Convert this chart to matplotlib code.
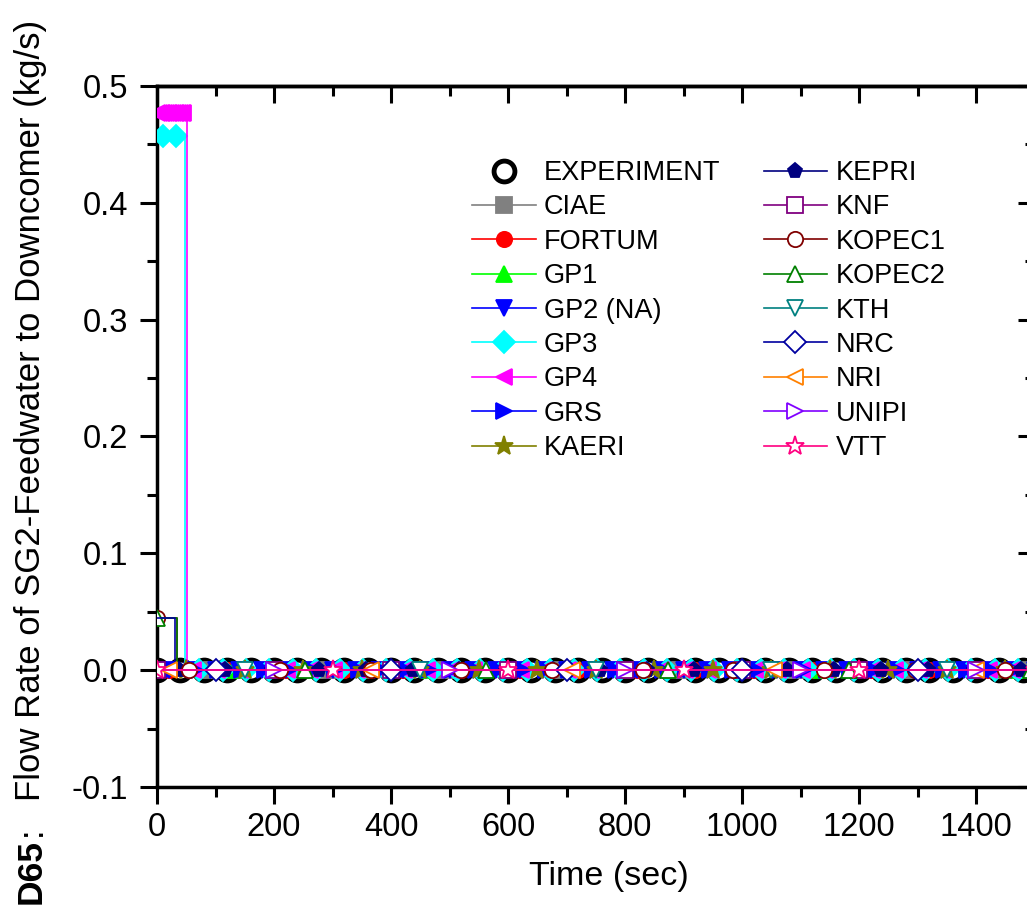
import numpy as np
import matplotlib
matplotlib.use("Agg")
import matplotlib.pyplot as plt
from matplotlib.lines import Line2D
from matplotlib.ticker import MultipleLocator

plt.rcParams['font.family'] = ['Liberation Sans', 'DejaVu Sans']

# experiment: flow is zero throughout, one point every 40 s
exp_time = np.arange(0, 1521, 40)
exp_flow = np.zeros(len(exp_time))

codes = ['CIAE', 'FORTUM', 'GP1', 'GP2 (NA)', 'GP3', 'GP4', 'GRS', 'KAERI',
         'KEPRI', 'KNF', 'KOPEC1', 'KOPEC2', 'KTH', 'NRC', 'NRI', 'UNIPI', 'VTT']
# initial flow (kg/s) and the time (s) it drops to zero
init_flow = [0, 0, 0, 0, 0.457, 0.477, 0, 0,
             0, 0, 0.045, 0.045, 0, 0.045, 0, 0, 0]
drop_time = [0, 0, 0, 0, 48, 51, 0, 0,
             0, 0, 34, 34, 0, 31, 0, 0, 0]
t_end = 1500

# where symbols sit along each curve
mk_first = [94, 20, 130, 20, 72, 62, 25, 50, 37, 0, 55, 253, 150, 100, 20, 200, 0]
mk_step = [200, 100, 335, 40, 40, 40, 40, 100, 80, 200, 155, 310, 300, 300, 345, 300, 300]
mk_early = {'GP3': [10, 32], 'GP4': list(range(0, 48, 3)), 'KOPEC1': [0], 'KOPEC2': [0]}

colors = ['#808080', '#ff0000', '#00ff00', '#0000ff', '#00ffff', '#ff00ff', '#0000ff', '#808000',
          '#000080', '#800080', '#800000', '#008000', '#008080', '#0000a0', '#ff8000', '#8000ff', '#ff0080']
markers = ['s', 'o', '^', 'v', 'D', '<', '>', '*',
           'p', 's', 'o', '^', 'v', 'D', '<', '>', '*']
filled = [True] * 9 + [False] * 8

fig = plt.figure(figsize=(10.27, 9.17), dpi=100)
ax = fig.add_axes([0.1529, 0.1418, 0.8545, 0.7644])

ax.plot(exp_time, exp_flow, ls='none', marker='o', ms=15, mfc='none',
        mec='black', mew=3.5, zorder=2)

for i, name in enumerate(codes):
    lev, td = init_flow[i], drop_time[i]
    if lev > 0:
        lx, ly = [0, td, td, t_end], [lev, lev, 0, 0]
    else:
        lx, ly = [0, t_end], [0, 0]
    mfc = colors[i] if filled[i] else 'white'
    ms = 14 if markers[i] == '*' else 11
    ax.plot(lx, ly, color=colors[i], lw=1.2, zorder=3)
    mt = list(mk_early.get(name, [])) + list(np.arange(mk_first[i], t_end + 1, mk_step[i]))
    mt = np.array(mt, dtype=float)
    my = np.where(mt < td, lev, 0.0)
    ax.plot(mt, my, ls='none', marker=markers[i], ms=ms, mfc=mfc,
            mec=colors[i], mew=1.3, zorder=3)

ax.set_xlim(0, 1500)
ax.set_ylim(-0.1, 0.5)
ax.xaxis.set_major_locator(MultipleLocator(200))
ax.xaxis.set_minor_locator(MultipleLocator(100))
ax.yaxis.set_major_locator(MultipleLocator(0.1))
ax.yaxis.set_minor_locator(MultipleLocator(0.05))
ax.yaxis.set_major_formatter(plt.FuncFormatter(lambda v, p: '%.1f' % v))

for s in ax.spines.values():
    s.set_linewidth(2.5)
ax.tick_params(which='both', direction='out', top=False, right=False, width=2.2)
ax.tick_params(which='major', length=12, labelsize=23.5)
ax.tick_params(which='minor', length=7)
ax.tick_params(axis='x', pad=6)
ax.tick_params(axis='y', pad=9)

top = ax.secondary_xaxis('top')
top.xaxis.set_major_locator(MultipleLocator(200))
top.xaxis.set_minor_locator(MultipleLocator(100))
top.tick_params(which='both', direction='in', width=2.2, labeltop=False)
top.tick_params(which='major', length=12)
top.tick_params(which='minor', length=7)
top.spines['top'].set_linewidth(2.5)

right = ax.secondary_yaxis('right')
right.yaxis.set_major_locator(MultipleLocator(0.1))
right.yaxis.set_minor_locator(MultipleLocator(0.05))
right.tick_params(which='both', direction='in', width=2.2, labelright=False)
right.tick_params(which='major', length=12)
right.tick_params(which='minor', length=7)
right.spines['right'].set_linewidth(2.5)

ax.set_xlabel('Time (sec)', fontsize=24.5)
ax.xaxis.set_label_coords(0.515, -0.105)

# y label: bold case id, then the quantity
fig.text(31 / 1027, 1 - 871 / 917, 'D65', fontsize=25.5, fontweight='bold',
         rotation=90, ha='center', va='center')
fig.text(31 / 1027, 1 - 831 / 917, ':', fontsize=25,
         rotation=90, ha='center', va='center')
fig.text(31 / 1027, 1 - 410 / 917, 'Flow Rate of SG2-Feedwater to Downcomer (kg/s)',
         fontsize=25, rotation=90, ha='center', va='center')

handles = [Line2D([], [], ls='none', marker='o', ms=15, mfc='none', mec='black', mew=3.5)]
for i in range(len(codes)):
    mfc = colors[i] if filled[i] else 'white'
    ms = 14 if markers[i] == '*' else 11
    handles.append(Line2D([], [], color=colors[i], lw=1.2, marker=markers[i], ms=ms,
                          mfc=mfc, mec=colors[i], mew=1.3))
labels = ['EXPERIMENT'] + codes
ax.legend(handles, labels, ncol=2, frameon=False, fontsize=19.5,
          loc='upper left', bbox_to_anchor=(472 / 1027, 1 - 160 / 917),
          bbox_transform=fig.transFigure, borderpad=0, borderaxespad=0,
          handlelength=2.35, handletextpad=0.3, columnspacing=1.6, labelspacing=0.31)

fig.savefig('out.png', dpi=100)
